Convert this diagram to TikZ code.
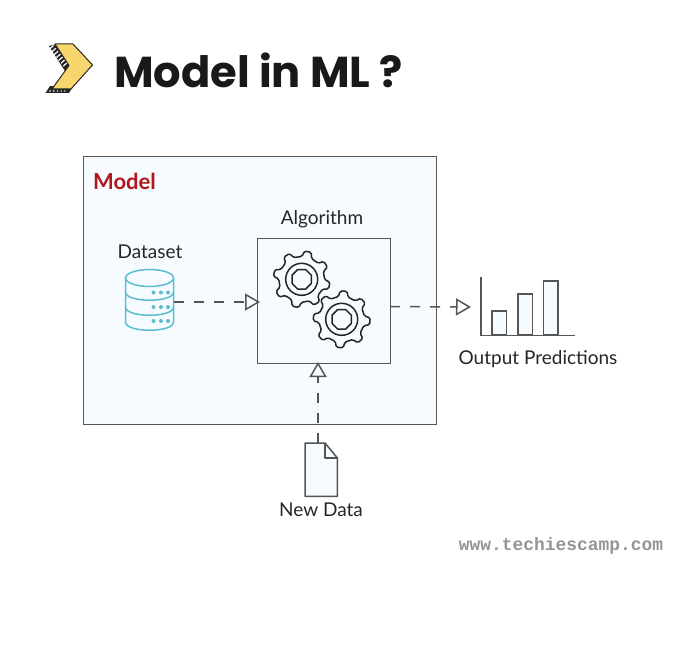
\documentclass[tikz,border=0pt]{standalone}
\usepackage{fontspec}
\setmainfont{Lato}
\newfontfamily\titlefont{Poppins}
\newfontfamily\markfont{Liberation Mono}
\usetikzlibrary{arrows.meta,calc}
\definecolor{panel}{HTML}{F5FBFF}
\definecolor{ink}{HTML}{555555}
\definecolor{teal}{HTML}{5DBDCF}
\definecolor{sun}{HTML}{F8D66D}
\definecolor{modelred}{HTML}{B0181C}
\tikzset{
 box/.style={draw=ink,line width=1.4pt,fill=panel,inner sep=0pt,anchor=north west},
 label/.style={font=\fontsize{19}{22}\selectfont,text=black!85,inner sep=0pt},
 flow/.style={draw=ink,line width=1.5pt,dash pattern=on 10pt off 10pt,-{Triangle[open,fill=panel,length=15pt,width=17pt,line width=1.5pt]}},
 gearline/.style={draw=black!85,line width=1.5pt,line join=round},
 db/.style={draw=teal,line width=1.5pt},
 bar/.style={draw=ink,line width=1.5pt,fill=panel},
 anchorbox/.style={inner sep=0pt,minimum size=0pt}
}
\newcommand{\gearshape}[3]{%
 \begin{scope}[shift={(#1,#2)}]
  \draw[gearline,rounded corners=1.6pt]
   \foreach \k in {0,...,7}{
     \ifnum\k=0 ($(\k*45+#3-12:23)$) \else -- ($(\k*45+#3-12:23)$)\fi
     -- ($(\k*45+#3-7:28.5)$) -- ($(\k*45+#3+7:28.5)$) -- ($(\k*45+#3+12:23)$)
   } -- cycle;
  \draw[gearline] (0,0) circle (16);
  \draw[gearline] (22.5:10.5)
   \foreach \a in {67.5,112.5,...,337.5}{ -- (\a:10.5)} -- cycle;
 \end{scope}}
\begin{document}
\begin{tikzpicture}[x=1pt,y=-1pt]
\useasboundingbox[fill=white] (0,0) rectangle (700,650);
% chevron
\fill[black!85] (49,46) -- (57,44) -- (72,66) -- (65,71) -- cycle;
\fill[black!85] (45.5,93) -- (50,86) -- (72,88) -- (69,93) -- cycle;
\draw[white,line width=1.2pt] foreach \i in {0,...,6}{($(52,47)!\i/7!(68,67)+(-2.5,2)$) -- ($(52,47)!\i/7!(68,67)+(1.5,-1.5)$)};
\foreach \i in {0,...,4}{\fill[white] ($(50,91)+(\i*3.7,0)$) circle (.8);}
\draw[black!85,fill=sun,line width=1pt,line join=round] (55,44) -- (73,44) -- (92.5,65) -- (71,89) -- (52,89) -- (69,65.5) -- cycle;
% title
\node[anchor=west,inner sep=0pt,font=\titlefont\bfseries\fontsize{43.2}{46}\selectfont,text=black!90] (title) at (114,70) {Model in ML ?};
% model box
\node[box,minimum width=353pt,minimum height=268pt] (model) at (82.5,155.5) {};
\node[anchor=center,inner sep=0pt,font=\bfseries\fontsize{22}{24}\selectfont,text=modelred] (modellabel) at (124.5,181) {Model};
% algorithm
\node[box,minimum width=133pt,minimum height=125pt] (algo) at (256.5,237.5) {};
\node[label] (algolabel) at (322,219) {Algorithm};
\gearshape{301.7}{279.3}{13}
\gearshape{341.7}{319.3}{4}
% dataset
\node[anchorbox,minimum width=48pt,minimum height=48pt] (ds) at (149.5,302) {};
\draw[db,fill=panel] (125.5,278) -- (125.5,322)
  .. controls (125.5,333) and (173.5,333) .. (173.5,322) -- (173.5,278);
\draw[db] (149.5,278) ellipse [x radius=24,y radius=8.5];
\draw[db] (125.5,292) .. controls (125.5,303) and (173.5,303) .. (173.5,292);
\draw[db] (125.5,307) .. controls (125.5,318) and (173.5,318) .. (173.5,307);
\foreach \y in {292.5,307,321}{\foreach \x in {153.5,161,168}{\fill[teal] (\x,\y) circle (2);}}
\node[label] (dslabel) at (150,252) {Dataset};
% chart
\node[anchorbox,minimum width=94pt,minimum height=58pt,anchor=north west] (chart) at (481,277) {};
\draw[bar] (492,335) rectangle (506.5,311);
\draw[bar] (518,335) rectangle (532.5,294);
\draw[bar] (543.5,335) rectangle (558,281);
\draw[ink,line width=1.5pt] (chart.north west) -- (chart.south west) -- (chart.south east);
\node[label] (outlabel) at (538,359) {Output Predictions};
% document
\node[anchorbox,minimum width=32pt,minimum height=53pt,anchor=north west] (doc) at (305,443) {};
\draw[ink,line width=1.5pt,fill=panel,line join=round] (doc.north west) -- (325,443) -- (doc.east |- 0,458) -- (doc.south east) -- (doc.south west) -- cycle;
\draw[ink,line width=1.5pt,line join=round] (325,443) -- (325,458) -- (doc.east |- 0,458);
\node[label] (doclabel) at (321,510) {New Data};
% connectors
\coordinate (dstip) at (260,302);
\coordinate (outtip) at (471,307);
\coordinate (algoout) at (390,306.5);
\draw[flow] (ds.east) -- (dstip);
\draw[flow,-{Triangle[open,fill=white,length=15pt,width=17pt,line width=1.5pt]}] (algoout) -- (outtip);
\draw[flow] (doc.north -| 318,0) -- (318,362);
% watermark
\node[anchor=center,inner sep=0pt,font=\markfont\bfseries\fontsize{17.9}{20}\selectfont,text=black!42] (mark) at (561,546) {www.techiescamp.com};
\end{tikzpicture}
\end{document}
